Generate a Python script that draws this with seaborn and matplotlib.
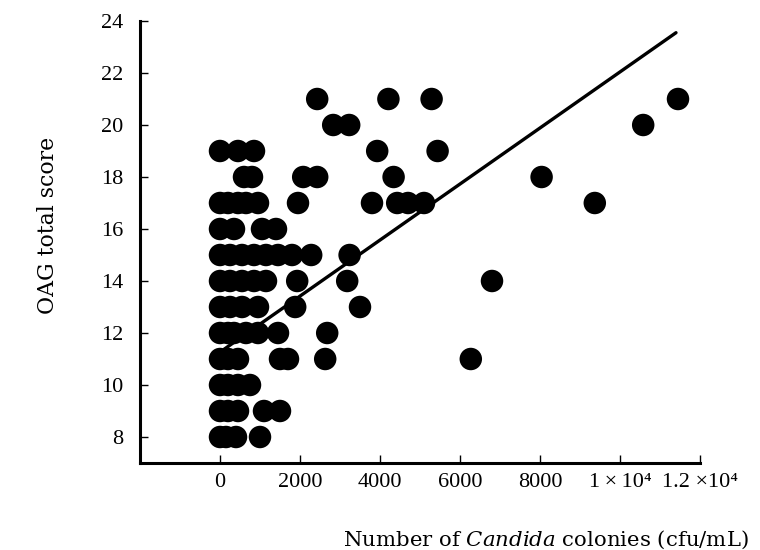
import matplotlib
matplotlib.use("Agg")
import matplotlib.pyplot as plt
import seaborn as sns
import pandas as pd

oag_scores = [8, 9, 10, 11, 12, 13, 14, 15, 16, 17, 18, 19, 20, 21]
colonies_by_score = [
    [0, 150, 400, 1000],
    [0, 200, 450, 1100, 1500],
    [0, 200, 450, 750],
    [0, 200, 450, 1500, 1700, 2630, 6270],
    [0, 200, 350, 650, 950, 1450, 2680],
    [0, 250, 550, 950, 1880, 3500],
    [0, 250, 550, 850, 1150, 1930, 3180, 6800],
    [0, 250, 550, 850, 1150, 1450, 1800, 2280, 3240],
    [0, 350, 1050, 1400],
    [0, 200, 450, 650, 950, 1950, 3800, 4430, 4700, 5100, 9370],
    [600, 800, 2080, 2430, 4340, 8040],
    [0, 450, 850, 3930, 5440],
    [2830, 3230, 10580],
    [2430, 4210, 5290, 11450],
]

# regression line end points
fit_colonies = [80, 11400]
fit_scores = [11.35, 23.55]

x_ticks = [0, 2000, 4000, 6000, 8000, 10000, 12000]
x_ticklabels = ['0', '2000', '4000', '6000', '8000', '1\u2009×\u200910⁴', '1.2 ×10⁴']
y_ticks = [8, 10, 12, 14, 16, 18, 20, 22, 24]

rows = []
for sc, cols in zip(oag_scores, colonies_by_score):
    for c in cols:
        rows.append((c, sc))
df = pd.DataFrame(rows, columns=['colonies', 'score'])

sns.set_theme(style="white")
plt.rcParams['font.family'] = ['Liberation Serif', 'DejaVu Serif']
plt.rcParams['text.color'] = 'black'
plt.rcParams['mathtext.fontset'] = 'custom'
plt.rcParams['mathtext.rm'] = 'DejaVu Serif'
plt.rcParams['mathtext.it'] = 'DejaVu Serif:italic'

fig = plt.figure(figsize=(7.6, 5.5), dpi=100)
ax = fig.add_axes([140 / 760, 1 - 463 / 550, 560 / 760, 442 / 550])

sns.scatterplot(data=df, x='colonies', y='score', s=262, color='black',
                edgecolor='none', linewidth=0, legend=False, ax=ax, zorder=3)
sns.lineplot(x=fit_colonies, y=fit_scores, color='black', linewidth=2.4, ax=ax, zorder=4)

ax.set_xlim(-2000, 12000)
ax.set_ylim(7, 24)
ax.set_xticks(x_ticks)
ax.set_xticklabels(x_ticklabels)
ax.set_yticks(y_ticks)
ax.set_xlabel('')
ax.set_ylabel('')

for side in ['top', 'right']:
    ax.spines[side].set_visible(False)
for side in ['left', 'bottom']:
    ax.spines[side].set_linewidth(2.2)
    ax.spines[side].set_color('black')

ax.tick_params(bottom=True, left=True, direction='in', length=6, width=1,
               colors='black', labelcolor='black', labelsize=16)
ax.tick_params(axis='x', pad=7)
ax.tick_params(axis='y', pad=12)

fig.text(48 / 760, 1 - 225 / 550, 'OAG total score', rotation=90, color='black',
         ha='center', va='center', fontsize=15.8, family='DejaVu Serif')
fig.text(546 / 760, 1 - 540 / 550, r'Number of $\it{Candida}$ colonies (cfu/mL)',
         ha='center', va='center', fontsize=15.3, family='DejaVu Serif', color='black')

fig.savefig('out.png', dpi=100)
